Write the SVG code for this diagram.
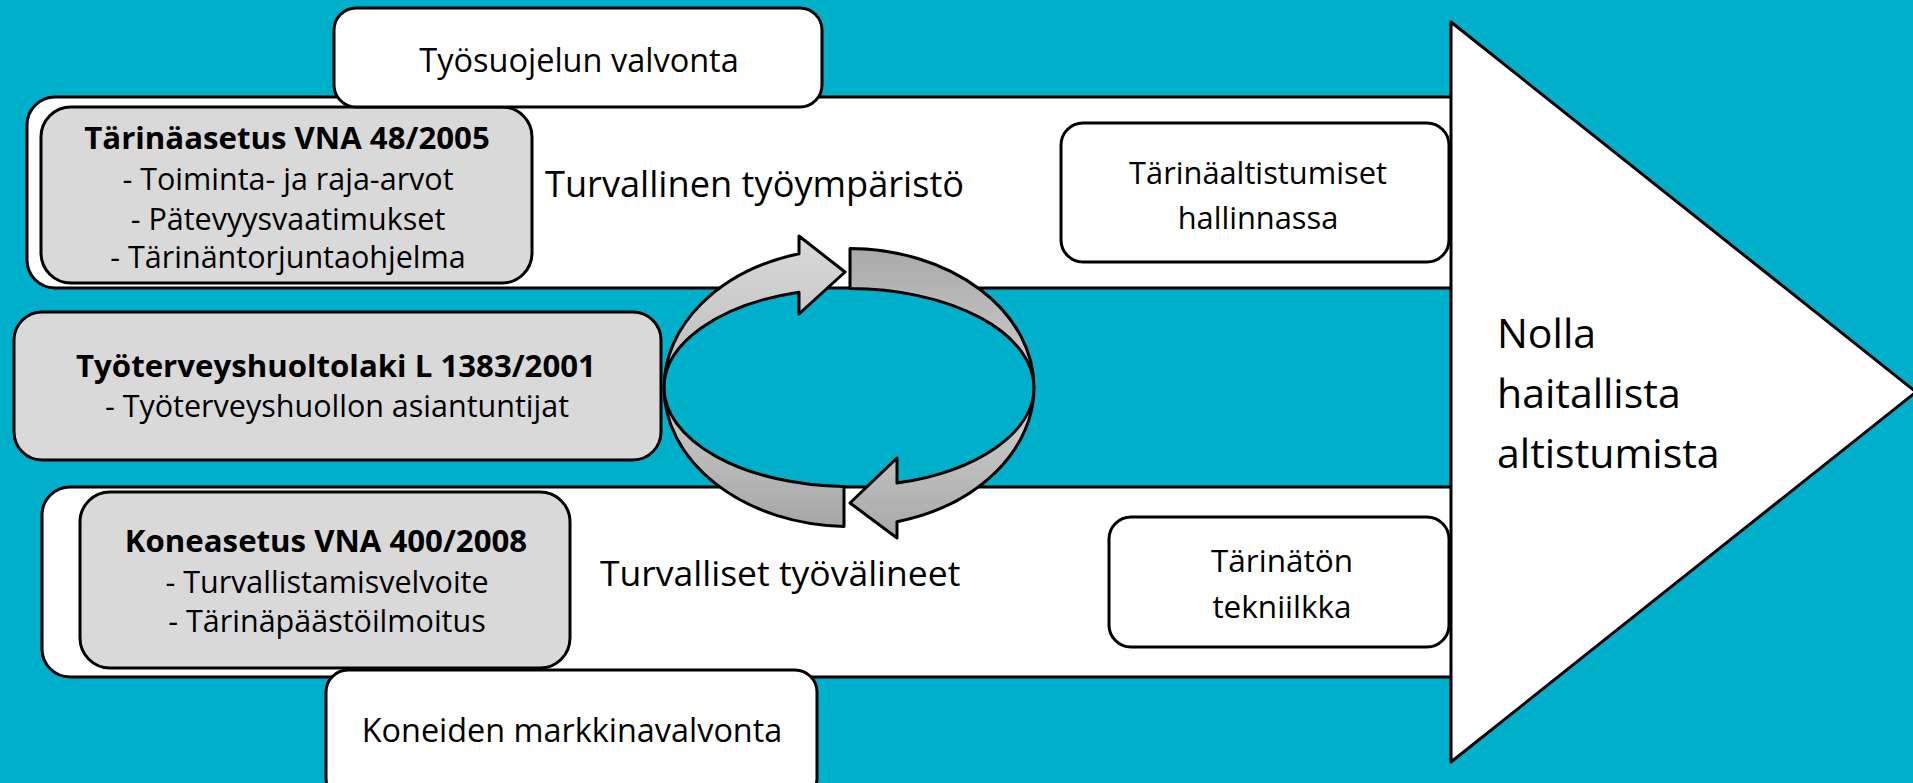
<svg xmlns="http://www.w3.org/2000/svg" width="1913" height="783" viewBox="0 0 1913 783">
<defs>
<style>
.ln{stroke:#000;stroke-width:3;stroke-linejoin:round}
.wh{fill:#fff}
.gr{fill:#d9d9d9}
text{font-family:"Open Sans","Noto Sans","DejaVu Sans",sans-serif;fill:#000}
.c{text-anchor:middle}
.b{font-weight:bold;font-size:31.2px}
.r{font-size:30.5px}
</style>
<linearGradient id="gLight" x1="0" y1="0" x2="0" y2="1">
<stop offset="0" stop-color="#dadada"/>
<stop offset="1" stop-color="#b9b9b9"/>
</linearGradient>
<linearGradient id="gLight2" x1="0" y1="0" x2="0" y2="1">
<stop offset="0" stop-color="#d4d4d4"/>
<stop offset="1" stop-color="#a8a8a8"/>
</linearGradient>
<linearGradient id="gDarkUp" x1="0" y1="0" x2="0" y2="1">
<stop offset="0" stop-color="#a9a9a9"/>
<stop offset="1" stop-color="#cfcfcf"/>
</linearGradient>
<linearGradient id="gDarkDown" x1="0" y1="0" x2="0" y2="1">
<stop offset="0" stop-color="#cfcfcf"/>
<stop offset="1" stop-color="#a6a6a6"/>
</linearGradient>
</defs>
<rect x="0" y="0" width="1913" height="783" fill="#00b0cb"/>

<g id="band-top"><rect class="wh ln" x="27" y="97" width="1450" height="191" rx="28"/>
<text x="545" y="197" font-size="36.2">Turvallinen työympäristö</text></g>

<g id="box-tarinaasetus"><rect class="gr ln" x="41" y="107" width="491" height="176" rx="30"/>
<text class="c b" x="287" y="149">Tärinäasetus VNA 48/2005</text>
<text class="c r" x="288" y="190">- Toiminta- ja raja-arvot</text>
<text class="c r" x="288" y="230">- Pätevyysvaatimukset</text>
<text class="c r" x="288" y="268">- Tärinäntorjuntaohjelma</text></g>

<g id="box-tyosuojelu"><rect class="wh ln" x="334" y="8" width="488" height="99" rx="22"/>
<text class="c" x="579" y="72" font-size="32.5">Työsuojelun valvonta</text></g>

<g id="box-hallinnassa"><rect class="wh ln" x="1061" y="123" width="388" height="139" rx="22"/>
<text class="c" x="1258" y="184" font-size="30.8">Tärinäaltistumiset</text>
<text class="c" x="1258" y="229" font-size="30.8">hallinnassa</text></g>

<g id="box-tyoterveys"><rect class="gr ln" x="14" y="312" width="647" height="148" rx="28"/>
<text class="c b" x="336" y="377">Työterveyshuoltolaki L 1383/2001</text>
<text class="c r" x="337" y="417">- Työterveyshuollon asiantuntijat</text></g>

<g id="band-bottom"><rect class="wh ln" x="42" y="487" width="1435" height="190" rx="28"/>
<text x="600" y="586" font-size="35.5">Turvalliset työvälineet</text></g>

<g id="box-koneasetus"><rect class="gr ln" x="80" y="492" width="490" height="176" rx="30"/>
<text class="c b" x="326" y="552">Koneasetus VNA 400/2008</text>
<text class="c r" x="327" y="593">- Turvallistamisvelvoite</text>
<text class="c r" x="327" y="632">- Tärinäpäästöilmoitus</text></g>

<g id="box-markkinavalvonta"><rect class="wh ln" x="326" y="670" width="491" height="130" rx="22"/>
<text class="c" x="572" y="742" font-size="32.4">Koneiden markkinavalvonta</text></g>

<g id="box-tarinaton"><rect class="wh ln" x="1109" y="517" width="340" height="130" rx="22"/>
<text class="c" x="1282" y="572" font-size="31.5">Tärinätön</text>
<text class="c" x="1282" y="618" font-size="31.5">tekniilkka</text></g>

<g id="cycle">
<path class="ln" fill="url(#gDarkDown)" d="M 664 387.5 A 185 139 0 0 0 844 526.4 L 844 486.5 A 185 99 0 0 1 664 387.5 Z"/>
<path class="ln" fill="url(#gDarkUp)" d="M 850 248.5 A 185 139 0 0 1 1034 387.5 A 185 99 0 0 0 850 288.5 Z"/>
<path class="ln" fill="url(#gLight)" d="M 664 387.5 A 185 139 0 0 1 799 253.7 L 799 236 L 845 272 L 799 314 L 799 292.2 A 185 99 0 0 0 664 387.5 Z"/>
<path class="ln" fill="url(#gLight2)" d="M 1034 387.5 A 185 139 0 0 1 897 521.7 L 897 538 L 850 503 L 897 458 L 897 483.1 A 185 99 0 0 0 1034 387.5 Z"/>
</g>

<g id="goal-arrow"><polygon class="wh ln" points="1451,22 1916,392 1451,762"/>
<text x="1497" y="348" font-size="41">Nolla</text>
<text x="1497" y="408" font-size="41">haitallista</text>
<text x="1497" y="468" font-size="41">altistumista</text></g>
</svg>
